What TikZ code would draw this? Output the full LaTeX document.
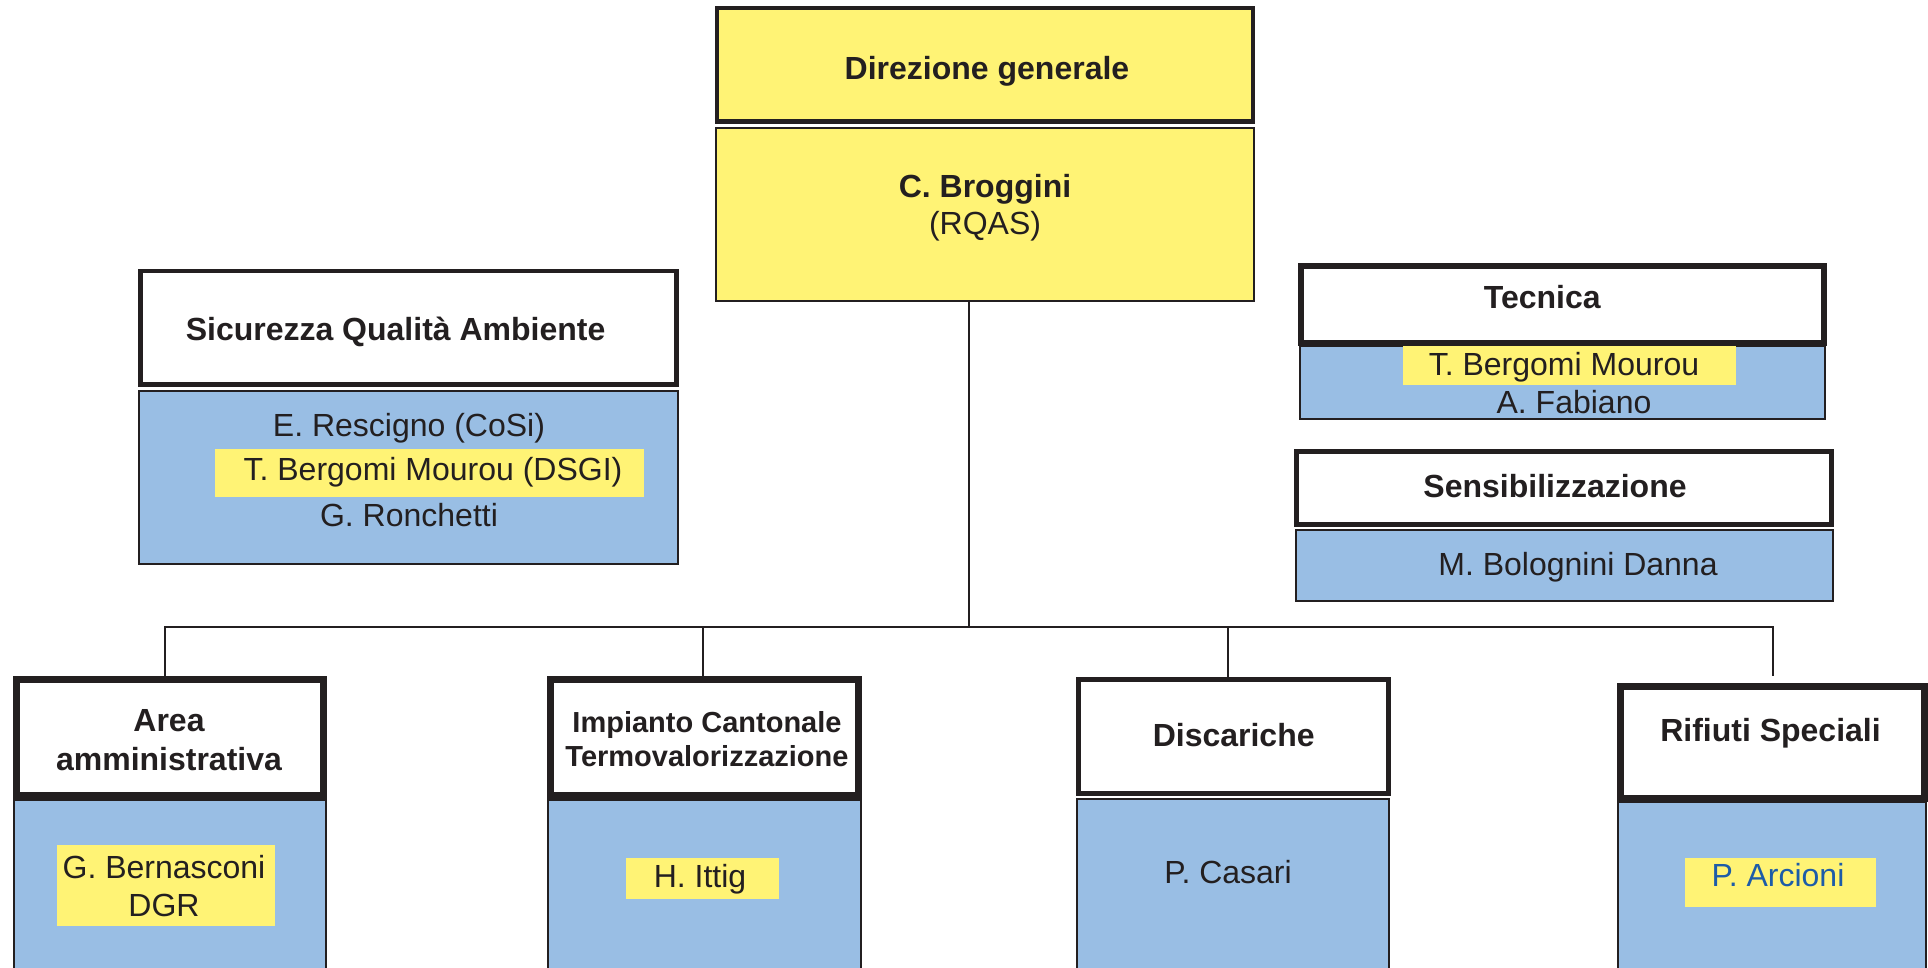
\documentclass[tikz,border=0pt]{standalone}
\usepackage{fontspec}
\setmainfont{Liberation Sans}
\definecolor{hl}{RGB}{255,243,117}
\definecolor{lb}{RGB}{153,190,228}
\definecolor{ink}{RGB}{35,31,32}
\definecolor{pblue}{RGB}{29,92,168}
\tikzset{
  boxbase/.style={rectangle, draw=ink, inner sep=0pt, outer sep=0pt},
  thickbox/.style={boxbase, fill=white, line width=4.5pt},
  heavybox/.style={boxbase, fill=white, line width=7pt},
  bluebox/.style={boxbase, fill=lb, line width=2pt},
  yelbox/.style={rectangle, draw=none, fill=hl, inner sep=0pt, outer sep=0pt},
  lbl/.style={inner sep=0pt, outer sep=0pt, anchor=base, text=ink, font=\fontsize{32}{38}\selectfont},
  blbl/.style={lbl, font=\fontsize{32}{38}\selectfont\bfseries},
  conn/.style={draw=ink, line width=2pt},
}
\begin{document}
\begin{tikzpicture}[x=1pt, y=-1pt]
\useasboundingbox (0,0) rectangle (1928,968);
\clip (0,0) rectangle (1928,968);

% coordinates of the connector bus
\coordinate (bus) at (969,626.7);
\coordinate (ja) at (164.7,626.7);
\coordinate (ji) at (703,626.7);
\coordinate (jd) at (1227.5,626.7);
\coordinate (jr) at (1773.4,626.7);
\coordinate (jre) at (1773.4,675.5);

% top boxes
\node[thickbox, fill=hl, minimum width=535.7pt, minimum height=113.7pt] (dg) at (985,64.9) {};
\node[bluebox, fill=hl, minimum width=538.2pt, minimum height=172.4pt] (brog) at (985,214.5) {};

% Sicurezza Qualita Ambiente
\node[bluebox, minimum width=538.1pt, minimum height=173pt] (sqab) at (408.5,477.5) {};
\node[thickbox, minimum width=535.6pt, minimum height=113.2pt] (sqa) at (408.5,327.85) {};

% Tecnica
\node[bluebox, minimum width=525.4pt, minimum height=72pt] (tecb) at (1562.3,382.5) {};
\node[thickbox, line width=6pt, minimum width=523pt, minimum height=77.3pt] (tec) at (1562.5,304.35) {};

% Sensibilizzazione
\node[bluebox, minimum width=537pt, minimum height=70.7pt] (senb) at (1564.5,565.35) {};
\node[thickbox, line width=5pt, minimum width=535pt, minimum height=72.7pt] (sen) at (1563.6,487.85) {};

% connectors
\draw[conn] (brog.south -| bus) -- (bus);
\draw[conn] (ja |- 0,679.5) -- (ja) -- (jr) -- (jre);
\draw[conn] (ji) -- (ji |- 0,679.5);
\draw[conn] (jd) -- (jd |- 0,679.5);

% bottom row
\node[bluebox, minimum width=312.4pt, minimum height=190pt] (areab) at (169.8,895) {};
\node[heavybox, minimum width=307.4pt, minimum height=116pt] (area) at (169.8,737.5) {};
\node[bluebox, minimum width=313pt, minimum height=190pt] (impb) at (704.5,895) {};
\node[heavybox, minimum width=308pt, minimum height=116pt] (imp) at (704.5,737.5) {};
\node[bluebox, minimum width=312pt, minimum height=191pt] (disb) at (1233,894.5) {};
\node[thickbox, line width=5pt, minimum width=310.3pt, minimum height=114.3pt] (dis) at (1233.35,736.35) {};
\node[bluebox, minimum width=308pt, minimum height=188pt] (rifb) at (1772,896) {};
\node[heavybox, minimum width=304.5pt, minimum height=112.7pt] (rif) at (1772.25,742.35) {};

% yellow highlights
\node[yelbox, minimum width=429pt, minimum height=47.7pt] (hsqa) at (429.5,472.85) {};
\node[yelbox, minimum width=333pt, minimum height=39pt] (htec) at (1569.5,365.5) {};
\node[yelbox, minimum width=217.6pt, minimum height=80.7pt] (harea) at (166.2,885.35) {};
\node[yelbox, minimum width=153.3pt, minimum height=41.3pt] (himp) at (702.35,878.35) {};
\node[yelbox, minimum width=191pt, minimum height=49pt] (hrif) at (1780.5,882.2) {};

% texts
\node[blbl] (tdg) at (987,80) {Direzione generale};
\node[blbl] (tbrog1) at (985,198) {C. Broggini};
\node[lbl] (tbrog2) at (985,235) {(RQAS)};

\node[blbl] (tsqa) at (395.6,340.7) {Sicurezza Qualità Ambiente};
\node[lbl] (tsqa1) at (409,436.7) {E. Rescigno (CoSi)};
\node[lbl] (tsqa2) at (433,480) {T. Bergomi Mourou (DSGI)};
\node[lbl] (tsqa3) at (409,526) {G. Ronchetti};

\node[blbl] (ttec) at (1542.3,309) {Tecnica};
\node[lbl] (ttec1) at (1564,375) {T. Bergomi Mourou};
\node[lbl] (ttec2) at (1574,413) {A. Fabiano};

\node[blbl] (tsen) at (1555,497) {Sensibilizzazione};
\node[lbl] (tsen1) at (1578,575) {M. Bolognini Danna};

\node[blbl] (tarea1) at (169,731.7) {Area};
\node[blbl] (tarea2) at (169,770.7) {amministrativa};
\node[lbl] (tareap1) at (164,878) {G. Bernasconi};
\node[lbl] (tareap2) at (164,916) {DGR};

\node[blbl, font=\fontsize{29}{35}\selectfont\bfseries] (timp1) at (707,732.7) {Impianto Cantonale};
\node[blbl, font=\fontsize{29}{35}\selectfont\bfseries] (timp2) at (707,766.7) {Termovalorizzazione};
\node[lbl] (timpp) at (700,887) {H. Ittig};

\node[blbl] (tdis) at (1233.7,746.7) {Discariche};
\node[lbl] (tdisp) at (1228,883) {P. Casari};

\node[blbl] (trif) at (1770.5,741.7) {Rifiuti Speciali};
\node[lbl, text=pblue] (trifp) at (1778,886.7) {P. Arcioni};
\end{tikzpicture}
\end{document}
